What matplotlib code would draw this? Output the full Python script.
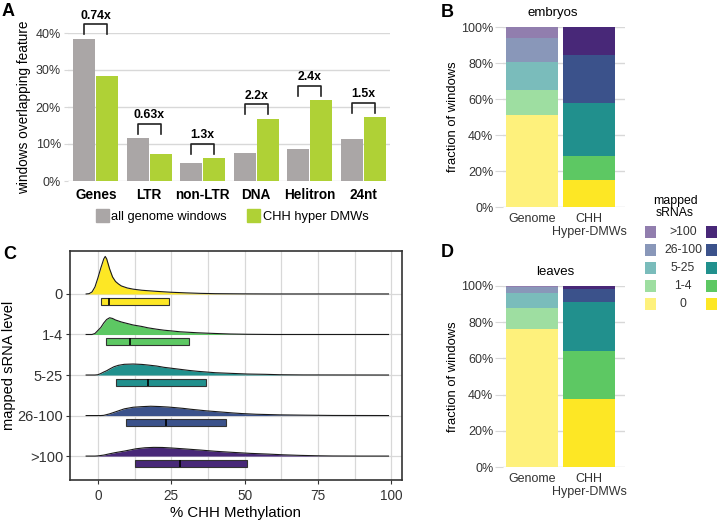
import numpy as np
import matplotlib
matplotlib.use("Agg")
import matplotlib.pyplot as plt
from matplotlib.colors import to_rgb
from matplotlib.patches import Rectangle

plt.rcParams['font.family'] = ['Liberation Sans', 'DejaVu Sans']

W, H = 720, 522

# panel A: % of windows overlapping each feature
features = ['Genes', 'LTR', 'non-LTR', 'DNA', 'Helitron', '24nt']
all_windows = [38.4, 11.6, 4.9, 7.6, 8.7, 11.4]
hyper_dmws = [28.4, 7.3, 6.2, 16.8, 21.9, 17.3]
fold_labels = ['0.74x', '0.63x', '1.3x', '2.2x', '2.4x', '1.5x']

# panels B and D: % of windows in each mapped sRNA class
srna_levels = ['0', '1-4', '5-25', '26-100', '>100']
level_colors = ['#fde725', '#5dc863', '#21908d', '#3b528b', '#482878']
bar_groups = ['Genome', 'CHH\nHyper-DMWs']
embryo_genome = [50.9, 13.9, 15.8, 13.3, 6.1]
embryo_hyper = [15.2, 13.1, 29.3, 26.8, 15.6]
leaf_genome = [76.0, 11.6, 8.3, 3.7, 0.4]
leaf_hyper = [37.8, 26.2, 27.0, 7.3, 1.7]

# panel C: ridge heights and box stats (q1, median, q3)
ridge_x = {
    '0': [-4, -3, -2, -1, 0, 1, 2, 2.5, 3, 3.5, 4, 5, 6, 7, 8, 10, 12, 15, 20, 25, 30, 35, 40, 50, 60, 99],
    '1-4': [-4, -2, -1, 0, 1, 2, 3, 4, 5, 6, 8, 10, 12, 15, 17, 20, 22.5, 25, 28, 34, 40, 45, 51, 60, 99],
    '5-25': [-4, -1, 0, 1, 2, 3, 4, 5.5, 7, 9, 12, 15, 17, 20, 22.5, 25, 28, 31, 34, 40, 45, 51, 57, 62, 70, 99],
    '26-100': [-4, 1, 2, 4, 6.6, 9, 12, 15, 18, 21, 24, 26, 29, 31.6, 34, 37, 40, 43, 46, 49, 54, 62, 70, 80, 99],
    '>100': [-4, -1, 0, 2, 4, 6, 9, 13, 16, 19, 22, 25, 29, 35, 40, 46, 52, 58, 63, 69, 75, 80, 90, 99],
}
ridge_h = {
    '0': [0, 0.3, 2, 7, 16, 26, 35, 37.5, 35, 30, 25, 17, 12.5, 10, 8, 6, 4.8, 3.7, 2.6, 1.7, 1.1, 0.6, 0.3, 0.1, 0, 0],
    '1-4': [0, 0, 1, 4, 7, 11.5, 15, 16.7, 16, 14.5, 12.5, 11, 9.5, 8, 6.7, 5.3, 4.3, 3.6, 2.7, 1.7, 1, 0.5, 0.2, 0, 0],
    '5-25': [0, 0, 0.3, 1.5, 3, 4.3, 6, 8.3, 9.7, 10.7, 11, 10.6, 10, 9, 7.7, 6.8, 5.7, 4.6, 3.7, 2.3, 1.7, 1, 0.7, 0.3, 0.1, 0],
    '26-100': [0, 0, 0.2, 1.7, 4.3, 6.7, 8.3, 8.9, 9.3, 9, 8.5, 8, 7.2, 6.3, 5.6, 4.7, 4, 3.3, 2.6, 2, 1.3, 0.7, 0.4, 0.1, 0],
    '>100': [0, 0, 0.2, 1, 2.3, 3.5, 5, 7.3, 8.3, 8.7, 8.6, 8.1, 7.3, 6, 4.8, 3.7, 2.7, 2, 1.3, 0.7, 0.3, 0.1, 0, 0],
}
box_q1 = [1.2, 2.6, 6.1, 9.7, 12.7]
box_med = [3.8, 11.0, 17.1, 23.1, 27.9]
box_q3 = [24.3, 30.9, 37.0, 43.8, 50.8]

GRAY = '#aaa6a6'
GREEN = '#afd136'
GRID = '#d8d8d8'
RIDGE_SCALE = 1 / 40.5


def lighten(c, a=0.6):
    # opaque version of colour c drawn at alpha a over white
    return tuple(a * v + (1 - a) for v in to_rgb(c))


light_colors = [lighten(c) for c in level_colors]

fig = plt.figure(figsize=(W / 100, H / 100), dpi=100)


def px_axes(x0, y0, x1, y1):
    return fig.add_axes([x0 / W, 1 - y1 / H, (x1 - x0) / W, (y1 - y0) / H])


def px_text(x, y, s, **kw):
    fig.text(x / W, 1 - y / H, s, **kw)


# ---------------- A
axA = px_axes(68, 33, 390, 181)
x = np.arange(len(features))
axA.bar(x - 0.215, all_windows, 0.41, color=GRAY, zorder=2)
axA.bar(x + 0.215, hyper_dmws, 0.41, color=GREEN, zorder=2)
axA.set_xlim(-0.52, 5.5)
axA.set_ylim(0, 40)
axA.set_yticks([0, 10, 20, 30, 40])
axA.set_yticklabels([f'{v}%' for v in [0, 10, 20, 30, 40]], fontsize=9, color='#333333')
axA.set_xticks(x)
axA.set_xticklabels(features, fontsize=9.8, fontweight='bold')
axA.tick_params(axis='x', length=0, pad=5)
axA.tick_params(axis='y', length=3, color=GRID, pad=2)
axA.yaxis.grid(True, color=GRID, lw=1, zorder=0)
for s in axA.spines.values():
    s.set_visible(False)
for i in range(len(features)):
    top = max(all_windows[i], hyper_dmws[i]) + 3.9
    axA.plot([i - 0.215, i - 0.215, i + 0.215, i + 0.215], [top - 2.7, top, top, top - 2.7],
             color='#222222', lw=1.2, clip_on=False)
    axA.annotate(fold_labels[i], (i, top), xytext=(0, 4), textcoords='offset points',
                 ha='center', va='baseline', fontsize=8.8, fontweight='bold', annotation_clip=False)
axA.set_ylabel('windows overlapping feature', fontsize=9.8)
axA.yaxis.set_label_coords(-0.115, 0.5)
handles = [Rectangle((0, 0), 1, 1, color=GRAY), Rectangle((0, 0), 1, 1, color=GREEN)]
axA.legend(handles, ['all genome windows', 'CHH hyper DMWs'], loc='center',
           bbox_to_anchor=(0.51, -0.236), ncol=2, frameon=False, fontsize=9.3,
           handlelength=1.0, handleheight=1.2, handletextpad=0.2, columnspacing=1.6)


# ---------------- B and D
def stacked(ax, genome, hyper, title, title_y, title_x):
    bottom_g, bottom_h = 0, 0
    for j in range(len(srna_levels)):
        ax.bar(0, genome[j], 0.91, bottom=bottom_g, color=light_colors[j], lw=0, zorder=2)
        ax.bar(1, hyper[j], 0.91, bottom=bottom_h, color=level_colors[j], lw=0, zorder=2)
        bottom_g += genome[j]
        bottom_h += hyper[j]
    ax.set_xlim(-0.51, 1.63)
    ax.set_ylim(0, 100)
    ax.set_yticks(range(0, 101, 20))
    ax.set_yticklabels([f'{v}%' for v in range(0, 101, 20)], fontsize=9, color='#333333')
    ax.set_xticks([0, 1])
    ax.set_xticklabels(bar_groups, fontsize=9, color='#333333')
    ax.tick_params(axis='x', length=0, pad=4)
    ax.tick_params(axis='y', length=5.5, color=GRID, pad=1.5)
    ax.yaxis.grid(True, color=GRID, lw=1, zorder=0)
    for s in ax.spines.values():
        s.set_visible(False)
    ax.set_ylabel('fraction of windows', fontsize=9.4)
    ax.yaxis.set_label_coords(-0.36, 0.5)
    px_text(title_x, title_y, title, ha='center', va='center', fontsize=9.5)


axB = px_axes(503, 27, 625, 207)
stacked(axB, embryo_genome, embryo_hyper, 'embryos', 13, 553)
axD = px_axes(503, 286, 625, 467)
stacked(axD, leaf_genome, leaf_hyper, 'leaves', 272, 555)

# shared legend for B/D
axL = px_axes(630, 185, 720, 315)
axL.set_xlim(630, 720)
axL.set_ylim(315, 185)
axL.axis('off')
axL.text(675, 207, 'mapped\nsRNAs', ha='center', va='center', fontsize=8.8, linespacing=1.05)
for k, j in enumerate(range(len(srna_levels) - 1, -1, -1)):
    yc = 232 + 18 * k
    axL.add_patch(Rectangle((645, yc - 6), 10.5, 12, color=light_colors[j], lw=0))
    axL.add_patch(Rectangle((706, yc - 6), 11, 12, color=level_colors[j], lw=0))
    axL.text(683, yc, srna_levels[j], ha='center', va='center', fontsize=8.8, color='#333333')

# ---------------- C
axC = px_axes(70, 251, 402, 480)
axC.set_xlim(-9.5, 103.6)
axC.set_ylim(0.41, 6.06)
rows = [5 - i for i in range(len(srna_levels))]
axC.set_xticks([0, 25, 50, 75, 100])
axC.set_xticks([12.5, 37.5, 62.5, 87.5], minor=True)
axC.set_yticks(rows)
axC.set_yticklabels(srna_levels, fontsize=10.5, color='#333333')
axC.tick_params(axis='x', labelsize=9.8, labelcolor='#333333', length=3, color='#333333')
axC.tick_params(axis='x', which='minor', length=0)
axC.tick_params(axis='y', length=3, color='#333333', pad=2)
axC.grid(True, which='both', axis='x', color=GRID, lw=0.9, zorder=0)
axC.grid(True, which='major', axis='y', color=GRID, lw=0.9, zorder=0)
for s in axC.spines.values():
    s.set_color('#333333')
    s.set_linewidth(1.2)
for i, lev in enumerate(srna_levels):
    r = rows[i]
    xs = np.array(ridge_x[lev])
    ys = r + np.array(ridge_h[lev]) * RIDGE_SCALE
    axC.fill_between(xs, r, ys, color=level_colors[i], lw=0, zorder=3 + i)
    axC.plot(xs, ys, color='#1a1a1a', lw=0.8, zorder=3 + i)
    stats = [dict(med=box_med[i], q1=box_q1[i], q3=box_q3[i],
                  whislo=box_q1[i], whishi=box_q3[i], fliers=[])]
    axC.bxp(stats, positions=[r - 0.175], widths=0.17, orientation='horizontal',
            patch_artist=True, showcaps=False, showfliers=False, manage_ticks=False,
            boxprops=dict(facecolor=level_colors[i], edgecolor='#333333', lw=0.8),
            medianprops=dict(color='black', lw=1.2), whiskerprops=dict(lw=0),
            zorder=3 + i)
axC.set_xlabel('% CHH Methylation', fontsize=10.8)
axC.xaxis.set_label_coords(0.5, -0.115)
axC.set_ylabel('mapped sRNA level', fontsize=10.5)
axC.yaxis.set_label_coords(-0.162, 0.5)

# panel letters
for letter, lx, ly in [('A', 2, 16), ('B', 441, 17), ('C', 3, 259), ('D', 441, 257)]:
    px_text(lx, ly, letter, fontsize=13, fontweight='bold', va='baseline')

fig.savefig('out.png', dpi=100)
